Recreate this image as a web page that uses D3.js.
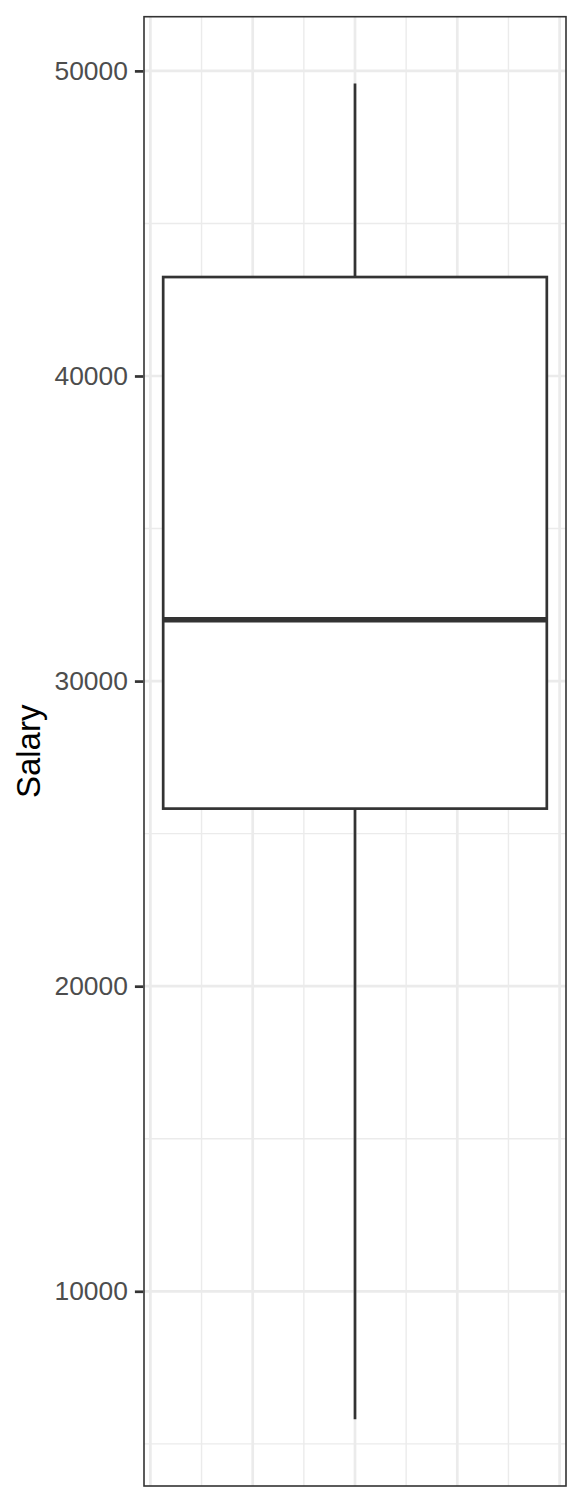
<html lang="en">
  <head>
    <meta charset="utf-8" />
    <title>Salary boxplot</title>
    <style>
     body { margin: 0; background: #fff; }
     text { font-family: "Liberation Sans", Arial, sans-serif; }
    </style>
  </head>
  <body>
    <div id="chart"></div>
    <script src="https://d3js.org/d3.v7.min.js"></script>
    <script>

     // box statistics
     var groups = ["Salary"];
     var lowerWhisker = [5807];
     var q1 = [25820];
     var median = [32011];
     var q3 = [43243];
     var upperWhisker = [49587];

     var yTicks = [10000, 20000, 30000, 40000, 50000];
     var yMinor = [5000, 15000, 25000, 35000, 45000];
     var xMajor = [-0.4, -0.2, 0, 0.2, 0.4];
     var xMinor = [-0.3, -0.1, 0.1, 0.3];

     var width = 583, height = 1512;
     var panel = {left: 144, right: 566, top: 16.7, bottom: 1486};
     var boxWidth = 0.75;

     var svg = d3.select("#chart")
                 .append("svg")
                 .attr("width", width)
                 .attr("height", height);

     // ggplot style 5% expansion
     var yMin = d3.min(lowerWhisker), yMax = d3.max(upperWhisker);
     var pad = (yMax - yMin) * 0.05;
     var y = d3.scaleLinear()
               .domain([yMin - pad, yMax + pad])
               .range([panel.bottom, panel.top]);

     var xHalf = boxWidth / 2 * 1.1;
     var x = d3.scaleLinear()
               .domain([-xHalf, xHalf])
               .range([panel.left, panel.right]);

     var grid = svg.append("g");

     grid.selectAll(".yminor")
       .data(yMinor)
       .enter().append("line")
       .attr("x1", panel.left).attr("x2", panel.right)
       .attr("y1", d => y(d)).attr("y2", d => y(d))
       .attr("stroke", "#EBEBEB").attr("stroke-width", 1.4);

     grid.selectAll(".xminor")
       .data(xMinor)
       .enter().append("line")
       .attr("y1", panel.top).attr("y2", panel.bottom)
       .attr("x1", d => x(d)).attr("x2", d => x(d))
       .attr("stroke", "#EBEBEB").attr("stroke-width", 1.4);

     grid.selectAll(".ymajor")
       .data(yTicks)
       .enter().append("line")
       .attr("x1", panel.left).attr("x2", panel.right)
       .attr("y1", d => y(d)).attr("y2", d => y(d))
       .attr("stroke", "#EBEBEB").attr("stroke-width", 2.7);

     grid.selectAll(".xmajor")
       .data(xMajor)
       .enter().append("line")
       .attr("y1", panel.top).attr("y2", panel.bottom)
       .attr("x1", d => x(d)).attr("x2", d => x(d))
       .attr("stroke", "#EBEBEB").attr("stroke-width", 2.7);

     // boxes
     var boxes = svg.selectAll(".box")
       .data(groups)
       .enter().append("g");

     boxes.append("line")
       .attr("x1", x(0)).attr("x2", x(0))
       .attr("y1", (d, i) => y(upperWhisker[i]))
       .attr("y2", (d, i) => y(q3[i]))
       .attr("stroke", "#333333").attr("stroke-width", 2.7);

     boxes.append("line")
       .attr("x1", x(0)).attr("x2", x(0))
       .attr("y1", (d, i) => y(q1[i]))
       .attr("y2", (d, i) => y(lowerWhisker[i]))
       .attr("stroke", "#333333").attr("stroke-width", 2.7);

     boxes.append("rect")
       .attr("x", x(-boxWidth / 2))
       .attr("width", x(boxWidth / 2) - x(-boxWidth / 2))
       .attr("y", (d, i) => y(q3[i]))
       .attr("height", (d, i) => y(q1[i]) - y(q3[i]))
       .attr("fill", "#fff")
       .attr("stroke", "#333333").attr("stroke-width", 2.7);

     boxes.append("line")
       .attr("x1", x(-boxWidth / 2)).attr("x2", x(boxWidth / 2))
       .attr("y1", (d, i) => y(median[i]))
       .attr("y2", (d, i) => y(median[i]))
       .attr("stroke", "#333333").attr("stroke-width", 5.4);

     // panel border
     svg.append("rect")
       .attr("x", panel.left).attr("y", panel.top)
       .attr("width", panel.right - panel.left)
       .attr("height", panel.bottom - panel.top)
       .attr("fill", "none")
       .attr("stroke", "#333333").attr("stroke-width", 1.6);

     // y axis
     var yAxis = svg.append("g")
       .attr("transform", "translate(" + (panel.left - 0.8) + ",0)")
       .call(d3.axisLeft(y).tickValues(yTicks).tickSize(8.3).tickPadding(7).tickFormat(d3.format("d")));

     yAxis.select(".domain").remove();
     yAxis.selectAll(".tick line")
       .attr("stroke", "#333333").attr("stroke-width", 2.7);
     yAxis.selectAll(".tick text")
       .attr("fill", "#4D4D4D")
       .attr("font-size", 26.4)
       .attr("font-family", "Liberation Sans, Arial, sans-serif");

     svg.append("text")
       .attr("transform", "translate(40," + ((panel.top + panel.bottom) / 2) + ") rotate(-90)")
       .attr("text-anchor", "middle")
       .attr("fill", "#000")
       .attr("font-size", 33)
       .text(groups[0]);

    </script>
  </body>
</html>
